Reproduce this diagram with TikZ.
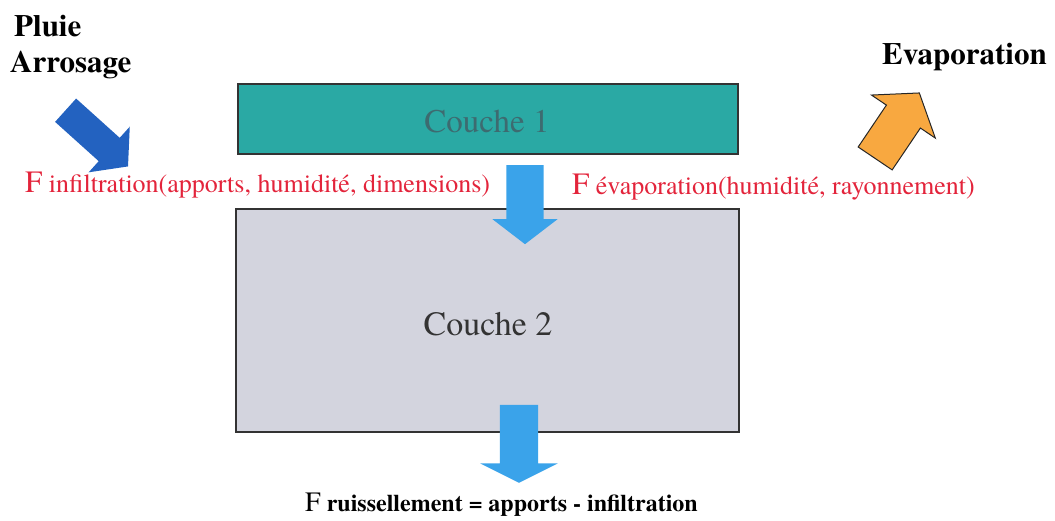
\documentclass[tikz,border=0pt]{standalone}
\usepackage{fontspec}
\setmainfont{texgyretermes}[Extension=.otf, UprightFont=*-regular, BoldFont=*-bold, ItalicFont=*-italic, BoldItalicFont=*-bolditalic]
\usetikzlibrary{shapes.arrows}
\definecolor{tealfill}{HTML}{2AA9A4}
\definecolor{tealtext}{HTML}{3D6B70}
\definecolor{grayfill}{HTML}{D3D4DE}
\definecolor{lightblue}{HTML}{3AA3EA}
\definecolor{darkblue}{HTML}{2362C0}
\definecolor{orangefill}{HTML}{F8A840}
\definecolor{redtext}{HTML}{E3243B}
\tikzset{
  layer/.style={draw=black!80, line width=1.2pt, inner sep=0pt},
  blockarrow/.style={single arrow, inner xsep=0pt, draw=none},
  redlabel/.style={text=redtext, anchor=base west, inner sep=0pt},
  title/.style={anchor=base west, inner sep=0pt, font=\fontsize{31}{35}\selectfont\bfseries},
}
\begin{document}
\begin{tikzpicture}[x=1pt,y=-1pt]
\useasboundingbox (0,0) rectangle (1055,521);
% layers
\node[layer, fill=tealfill, minimum width=500pt, minimum height=70pt] (c1) at (488,119) {};
\node[text=tealtext, font=\fontsize{33}{37}\selectfont, anchor=base] (c1t) at (487,133) {Couche 1};
\node[layer, fill=grayfill, minimum width=503pt, minimum height=223pt] (c2) at (487.5,320.5) {};
\node[text=black!80, font=\fontsize{34}{39}\selectfont, anchor=base] (c2t) at (488,335) {Couche 2};
% arrows
\node[blockarrow, fill=lightblue, minimum height=79pt, inner ysep=18.5pt,
      single arrow head extend=14pt, single arrow tip angle=105, rotate=-90] (a1) at (525,197.5) {};
\node[blockarrow, fill=lightblue, minimum height=78pt, inner ysep=19pt,
      single arrow head extend=19.5pt, single arrow tip angle=127, rotate=-90] (a2) at (519,439) {};
\node[blockarrow, fill=darkblue, minimum height=84pt, inner ysep=15.5pt,
      single arrow head extend=15pt, single arrow tip angle=101, rotate=-42] (a3) at (92,134) {};
\node[single arrow, inner xsep=0pt, inner ysep=20pt, draw=black!85, line width=1pt, fill=orangefill, minimum height=79pt,
      single arrow head extend=18pt, single arrow tip angle=107, rotate=56] (a4) at (893,132) {};
% titles
\node[title] (pluie) at (14,37) {Pluie};
\node[title] (arros) at (10,73) {Arrosage};
\node[anchor=base west, inner sep=0pt, font=\fontsize{31}{35}\selectfont\bfseries] (evap) at (882,65) {Evaporation};
% red labels
\node[redlabel] (finf) at (25,193) {\fontsize{31}{35}\selectfont F\fontsize{26}{30}\selectfont\ infiltration(apports, humidité, dimensions)};
\node[redlabel] (fevap) at (572,195) {\fontsize{31}{35}\selectfont F\fontsize{26}{30}\selectfont\ évaporation(humidité, rayonnement)};
% bottom label
\node[anchor=base west, inner sep=0pt] (fruis) at (305,511) {\fontsize{28}{32}\selectfont F\fontsize{24}{28}\selectfont\bfseries\ ruissellement = apports - infiltration};
\end{tikzpicture}
\end{document}
